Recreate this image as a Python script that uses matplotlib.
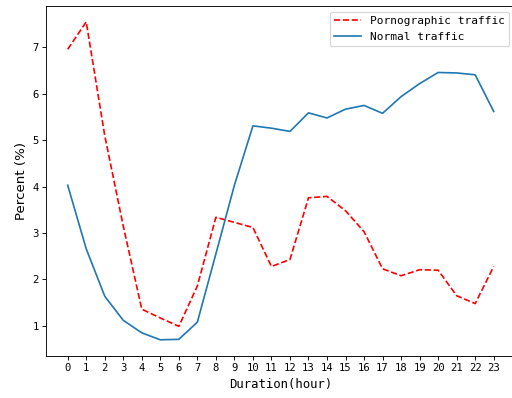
import matplotlib
matplotlib.use("Agg")
import matplotlib.pyplot as plt

# hourly share of traffic (%)
hours = list(range(24))
porn_traffic = [6.96, 7.55, 5.10, 3.15, 1.36, 1.17, 0.99, 1.86, 3.34, 3.23,
                3.12, 2.28, 2.43, 3.76, 3.79, 3.48, 3.03, 2.23, 2.08, 2.21,
                2.20, 1.65, 1.48, 2.28]
normal_traffic = [4.03, 2.66, 1.64, 1.12, 0.85, 0.70, 0.71, 1.08, 2.55, 4.03,
                  5.31, 5.26, 5.19, 5.59, 5.48, 5.67, 5.75, 5.58, 5.94, 6.22,
                  6.46, 6.45, 6.41, 5.62]
labels = ["Pornographic traffic", "Normal traffic"]

mono = {'family': 'DejaVu Sans Mono'}

W, H = 512, 398
fig = plt.figure(figsize=(W / 80, H / 80), dpi=80)
# right edge of the axes sits just past the image border, like the original crop
ax = fig.add_axes([46.4 / W, (H - 355.7) / H, (515 - 46.4) / W, (355.7 - 6) / H])

ax.plot(hours, porn_traffic, 'r--', label=labels[0])
ax.plot(hours, normal_traffic, color='#1f77b4', label=labels[1])

ax.set_xticks(hours)
for lab in ax.get_xticklabels() + ax.get_yticklabels():
    lab.set_fontfamily('DejaVu Sans Mono')
    lab.set_fontsize(9.5)

ax.set_xlabel("Duration(hour)", fontdict=mono, fontsize=11)
ax.set_ylabel("Percent (%)", family='DejaVu Sans', fontsize=12)

ax.legend(loc='upper right', prop={'family': 'DejaVu Sans Mono', 'size': 10},
          handlelength=2.4)

fig.savefig("out.png", dpi=80)
